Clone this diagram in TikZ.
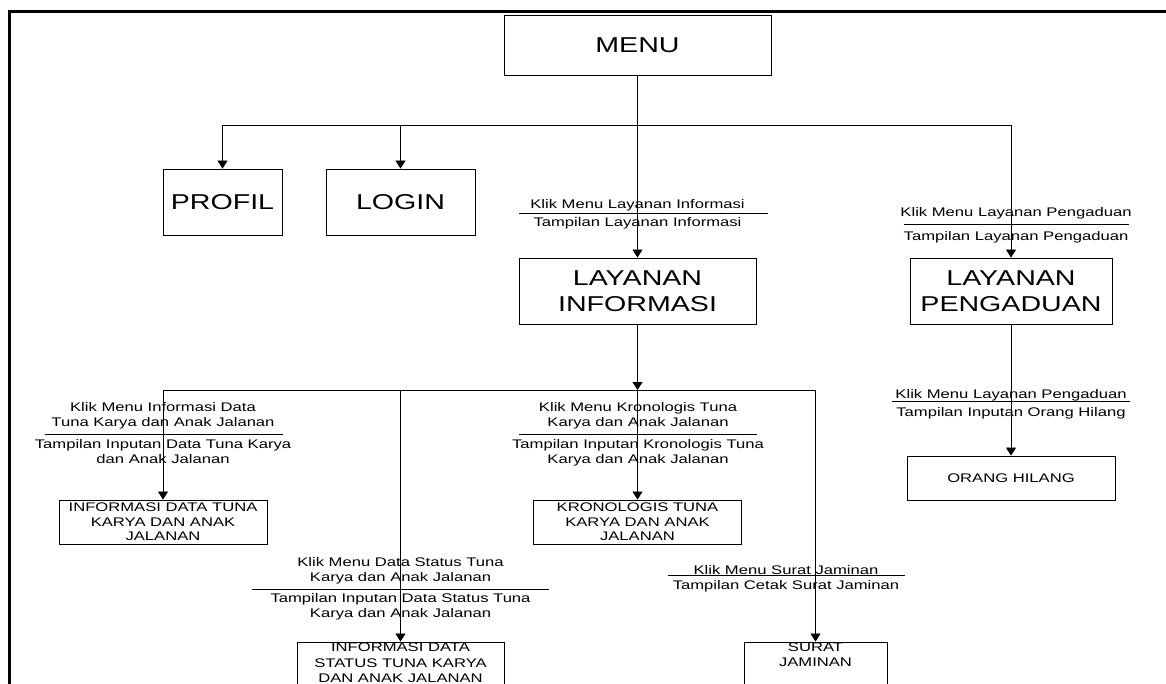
\documentclass[tikz,border=0pt]{standalone}
\usepackage{fontspec}
\setmainfont{Liberation Sans}[FakeStretch=1.33]
\usetikzlibrary{arrows.meta}

\begin{document}
\begin{tikzpicture}[x=1pt,y=-1pt,
        big/.style={draw, line width=0.9pt, align=center, inner sep=0pt, font=\fontsize{21.5}{26}\selectfont},
        small/.style={draw, line width=0.9pt, align=center, inner sep=0pt, font=\fontsize{12.5}{14.5}\selectfont},
        lbl/.style={align=center, inner sep=0pt, font=\fontsize{12.5}{15}\selectfont,
            execute at begin node=\strut, execute at end node=\strut},
        sep/.style={line width=0.7pt},
        link/.style={line width=0.8pt},
        arr/.style={line width=0.8pt, -{Triangle[length=8pt,width=10pt]}}]
        \useasboundingbox (0,0) rectangle (1166,684);
        \draw[line width=3pt] (9,700) -- (9,12) -- (1180,12);   % frame

        % boxes
        \node[big, minimum width=267, minimum height=60](menu) at (637.5,45) {MENU};
        \node[big, minimum width=119, minimum height=66](profil) at (222.5,202) {PROFIL};
        \node[big, minimum width=149, minimum height=66](login) at (400.5,202) {LOGIN};
        \node[big, minimum width=237, minimum height=66](layinfo) at (637.5,291) {LAYANAN\\INFORMASI};
        \node[big, minimum width=202, minimum height=66](laypeng) at (1011,291) {LAYANAN\\PENGADUAN};
        \node[small, minimum width=208, minimum height=44](infodata) at (163,522) {INFORMASI DATA TUNA\\KARYA DAN ANAK\\JALANAN};
        \node[small, minimum width=208, minimum height=44](krono) at (637.5,522) {KRONOLOGIS TUNA\\KARYA DAN ANAK\\JALANAN};
        \node[small, minimum width=207, minimum height=42, font=\fontsize{12.5}{15.5}\selectfont](status) at (400.5,663) {INFORMASI DATA\\STATUS TUNA KARYA\\DAN ANAK JALANAN};
        \node[small, minimum width=143, minimum height=44](surat) at (815.5,664) {SURAT\\JAMINAN\\\strut};
        \node[small, minimum width=208, minimum height=44](orang) at (1011,478) {ORANG HILANG};

        % labels
        \node[lbl, anchor=south](infoklik) at (637.5,213.5) {Klik Menu Layanan Informasi};
        \node[lbl, anchor=north](infotampil) at (637.5,216) {Tampilan Layanan Informasi};
        \draw[sep] (519,213) -- (768,213);
        \node[lbl, anchor=south](pengklik) at (1016,221) {Klik Menu Layanan Pengaduan};
        \node[lbl, anchor=north](pengtampil) at (1016,230) {Tampilan Layanan Pengaduan};
        \draw[sep] (904,224) -- (1129,224);
        \node[lbl, anchor=south](dataklik) at (163,431) {Klik Menu Informasi Data\\Tuna Karya dan Anak Jalanan};
        \node[lbl, anchor=north](datatampil) at (163,439) {Tampilan Inputan Data Tuna Karya\\dan Anak Jalanan};
        \draw[sep] (45,434) -- (283,434);
        \node[lbl, anchor=south](kronoklik) at (638,431) {Klik Menu Kronologis Tuna\\Karya dan Anak Jalanan};
        \node[lbl, anchor=north](kronotampil) at (638,439) {Tampilan Inputan Kronologis Tuna\\Karya dan Anak Jalanan};
        \draw[sep] (519,434) -- (757,434);
        \node[lbl, anchor=south](statusklik) at (400.5,586) {Klik Menu Data Status Tuna\\Karya dan Anak Jalanan};
        \node[lbl, anchor=north](statustampil) at (400.5,593) {Tampilan Inputan Data Status Tuna\\Karya dan Anak Jalanan};
        \draw[sep] (252,589) -- (549,589);
        \node[lbl, anchor=south](suratklik) at (786,579) {Klik Menu Surat Jaminan};
        \node[lbl, anchor=north](surattampil) at (786,579) {Tampilan Cetak Surat Jaminan};
        \draw[sep] (668,575) -- (905,575);
        \node[lbl, anchor=south](orangklik) at (1011,403) {Klik Menu Layanan Pengaduan};
        \node[lbl, anchor=north](orangtampil) at (1011,406) {Tampilan Inputan Orang Hilang};
        \draw[sep] (892,401) -- (1130,401);

        % connectors
        \coordinate (bus1) at (637.5,125);
        \coordinate (bus2) at (637.5,390);
        \draw[arr] (menu) -- (layinfo);
        \draw[link] (profil.north |- bus1) -- (laypeng.north |- bus1);
        \draw[arr] (profil.north |- bus1) -- (profil);
        \draw[arr] (login.north |- bus1) -- (login);
        \draw[arr] (laypeng.north |- bus1) -- (laypeng);
        \draw[arr] (layinfo) -- (bus2);
        \draw[link] (infodata.north |- bus2) -- (surat.north |- bus2);
        \draw[arr] (infodata.north |- bus2) -- (infodata);
        \draw[arr] (status.north |- bus2) -- (status);
        \draw[arr] (bus2) -- (krono);
        \draw[arr] (surat.north |- bus2) -- (surat);
        \draw[arr] (laypeng) -- (orang);

    \end{tikzpicture}
\end{document}
